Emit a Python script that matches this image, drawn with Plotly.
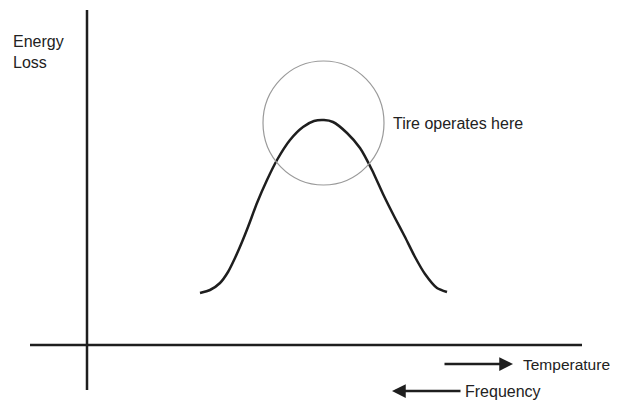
import plotly.graph_objects as go

# Curve: energy loss vs temperature (arbitrary units)
temperature = [11.3, 12.3, 13.3, 14.1, 14.8, 15.5, 16.1, 17.0, 18.0, 19.0, 20.3, 21.6, 22.7,
               23.7, 24.6, 26.0, 27.3, 28.5, 29.6, 30.8, 31.8, 32.8, 33.8, 35.0, 36.0]
energy_loss = [5.2, 5.5, 6.2, 7.3, 8.7, 10.3, 11.8, 14.2, 16.5, 18.5, 20.5, 21.8, 22.4,
               22.5, 22.3, 21.2, 19.7, 17.5, 15.1, 12.7, 10.8, 8.8, 7.1, 5.7, 5.3]

# Axis extents
x_axis_extent = [-5.7, 49.5]
y_axis_extent = [-4.5, 33.5]

# Operating region circle (bounding box)
circle_x = [17.6, 29.7]
circle_y = [16.0, 28.4]

# Labels
y_label = "Energy<br>Loss"
y_label_pos = (-7.6, 29.3)
circle_label = "Tire operates here"
circle_label_pos = (30.4, 22.2)
temp_label = "Temperature"
temp_arrow = {"tail": (35.6, -1.9), "head": (42.6, -1.9), "text_x": 43.4}
freq_label = "Frequency"
freq_arrow = {"tail": (37.5, -4.6), "head": (30.5, -4.6), "text_x": 37.6}

ink = "#1e1e1e"
font = dict(family="Liberation Sans, Arial, sans-serif", size=16, color="#222222")
temp_font = dict(family="Liberation Sans, Arial, sans-serif", size=15.5, color="#222222")

fig = go.Figure()

fig.add_trace(go.Scatter(
    x=temperature, y=energy_loss, mode="lines",
    line=dict(color=ink, width=2.5, shape="spline", smoothing=0.6),
    hoverinfo="skip", showlegend=False))

# axes lines
fig.add_trace(go.Scatter(x=[0, 0], y=y_axis_extent, mode="lines",
                         line=dict(color=ink, width=2.5), showlegend=False, hoverinfo="skip"))
fig.add_trace(go.Scatter(x=x_axis_extent, y=[0, 0], mode="lines",
                         line=dict(color=ink, width=2.5), showlegend=False, hoverinfo="skip"))

fig.add_shape(type="circle", xref="x", yref="y",
              x0=circle_x[0], x1=circle_x[1], y0=circle_y[0], y1=circle_y[1],
              line=dict(color="#9a9a9a", width=1.2))

annotations = [
    dict(x=y_label_pos[0], y=y_label_pos[1], text=y_label, showarrow=False,
         xanchor="left", yanchor="middle", align="left", font=font),
    dict(x=circle_label_pos[0], y=circle_label_pos[1], text=circle_label, showarrow=False,
         xanchor="left", yanchor="middle", font=font),
    dict(x=temp_arrow["head"][0], y=temp_arrow["head"][1], ax=temp_arrow["tail"][0],
         ay=temp_arrow["tail"][1], axref="x", ayref="y", xref="x", yref="y", text="",
         showarrow=True, arrowhead=2, arrowsize=1.1, arrowwidth=2.5, arrowcolor=ink),
    dict(x=temp_arrow["text_x"], y=temp_arrow["head"][1], text=temp_label, showarrow=False,
         xanchor="left", yanchor="middle", font=temp_font),
    dict(x=freq_arrow["head"][0], y=freq_arrow["head"][1], ax=freq_arrow["tail"][0],
         ay=freq_arrow["tail"][1], axref="x", ayref="y", xref="x", yref="y", text="",
         showarrow=True, arrowhead=2, arrowsize=1.1, arrowwidth=2.5, arrowcolor=ink),
    dict(x=freq_arrow["text_x"], y=freq_arrow["head"][1], text=freq_label, showarrow=False,
         xanchor="left", yanchor="middle", font=font),
]

# ranges offset to compensate for the page's 8px body margin
fig.update_layout(
    width=618, height=402,
    margin=dict(l=0, r=0, t=0, b=0),
    paper_bgcolor="white", plot_bgcolor="white",
    xaxis=dict(range=[-7.9, 53.9], visible=False, fixedrange=True),
    yaxis=dict(range=[-6.5, 33.7], visible=False, fixedrange=True),
    annotations=annotations,
    showlegend=False,
)

fig.write_html("out.html")
